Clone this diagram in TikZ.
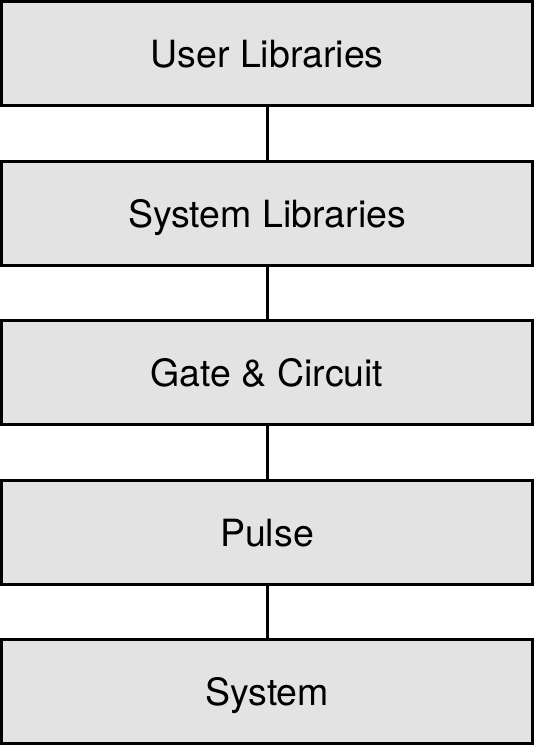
\documentclass[tikz,border=0pt]{standalone}
\usepackage{fontspec}
\setmainfont{TeX Gyre Heros}
\definecolor{boxfill}{HTML}{E3E3E3}
\begin{document}
\begin{tikzpicture}[x=1pt,y=1pt,
  layer/.style={draw=black, fill=boxfill, line width=3pt, minimum width=531pt, minimum height=104pt, inner sep=0pt, outer sep=0pt, font=\fontsize{37.5}{42}\selectfont, text height=36pt, text depth=8pt, anchor=center},
  link/.style={draw=black, line width=3pt}]
\useasboundingbox (0,0) rectangle (535,-747);
\node[layer] (user) at (267,-53.5) {User Libraries};
\node[layer] (sys) at (267,-213) {System Libraries};
\node[layer] (gate) at (267,-372.5) {Gate \& Circuit};
\node[layer] (pulse) at (267,-532.5) {Pulse};
\node[layer] (system) at (267,-691.5) {System};
\draw[link] (user.south) -- (sys.north);
\draw[link] (sys.south) -- (gate.north);
\draw[link] (gate.south) -- (pulse.north);
\draw[link] (pulse.south) -- (system.north);
\end{tikzpicture}
\end{document}
